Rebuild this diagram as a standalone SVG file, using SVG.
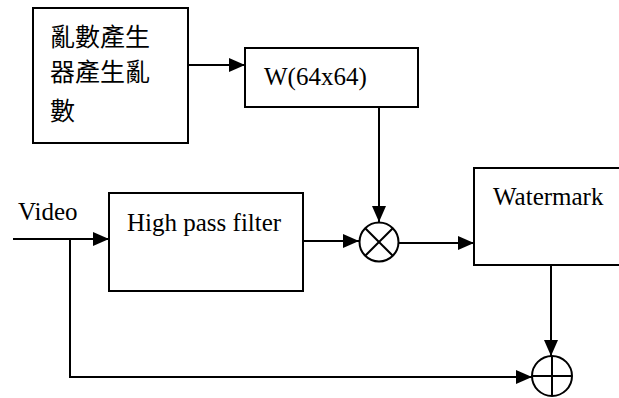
<svg xmlns="http://www.w3.org/2000/svg" width="619" height="398" viewBox="0 0 619 398">
  <style>
    .box { fill: #fff; stroke: #000; stroke-width: 2; }
    .line { fill: none; stroke: #000; stroke-width: 2; }
    .op { fill: #fff; stroke: #000; stroke-width: 2; }
    .lbl { font-family: "Liberation Serif", "Times New Roman", serif; font-size: 25px; fill: #000; }
    .cjk { font-family: "Noto Sans CJK TC", "Noto Sans CJK SC", sans-serif; font-size: 25px; fill: #000; }
  </style>
  <defs>
    <marker id="arrow" viewBox="0 0 16 14" refX="16" refY="7" markerWidth="16" markerHeight="14" markerUnits="userSpaceOnUse" orient="auto">
      <path d="M0,0 L16,7 L0,14 Z" fill="#000"/>
    </marker>
  </defs>

  <rect width="619" height="398" fill="#fff"/>

  <g id="connectors">
    <!-- random generator to W -->
    <line class="line" x1="188" y1="65" x2="245" y2="65" marker-end="url(#arrow)"/>
    <!-- W down to multiplier -->
    <line class="line" x1="379" y1="107" x2="379" y2="222" marker-end="url(#arrow)"/>
    <!-- video input to high pass filter -->
    <line class="line" x1="13" y1="239" x2="109" y2="239" marker-end="url(#arrow)"/>
    <!-- high pass filter to multiplier -->
    <line class="line" x1="303" y1="241" x2="359" y2="241" marker-end="url(#arrow)"/>
    <!-- multiplier to watermark -->
    <line class="line" x1="399" y1="243" x2="474" y2="243" marker-end="url(#arrow)"/>
    <!-- watermark down to adder -->
    <line class="line" x1="551" y1="265" x2="551" y2="356" marker-end="url(#arrow)"/>
    <!-- video bypass to adder -->
    <polyline class="line" points="70,239 70,377 532,377" marker-end="url(#arrow)"/>
  </g>

  <g id="rng">
    <rect class="box" x="33" y="8" width="155" height="135"/>
    <text class="cjk" x="50" y="46">亂數產生</text>
    <text class="cjk" x="50" y="81">器產生亂</text>
    <text class="cjk" x="50" y="120">數</text>
  </g>

  <g id="w">
    <rect class="box" x="245" y="48" width="173" height="59"/>
    <text class="lbl" x="264" y="85">W(64x64)</text>
  </g>

  <g id="video">
    <text class="lbl" x="18" y="220">Video</text>
  </g>

  <g id="hpf">
    <rect class="box" x="109" y="193" width="194" height="98"/>
    <text class="lbl" x="127" y="231">High pass filter</text>
  </g>

  <g id="multiplier">
    <circle class="op" cx="379" cy="242" r="19.5"/>
    <line class="line" x1="365.2" y1="228.2" x2="392.8" y2="255.8"/>
    <line class="line" x1="392.8" y1="228.2" x2="365.2" y2="255.8"/>
  </g>

  <g id="watermark">
    <rect class="box" x="474" y="168" width="160" height="97"/>
    <text class="lbl" x="493" y="205">Watermark</text>
  </g>

  <g id="adder">
    <circle class="op" cx="552" cy="376" r="20"/>
    <line class="line" x1="532" y1="376" x2="572" y2="376"/>
    <line class="line" x1="552" y1="356" x2="552" y2="396"/>
  </g>
</svg>
